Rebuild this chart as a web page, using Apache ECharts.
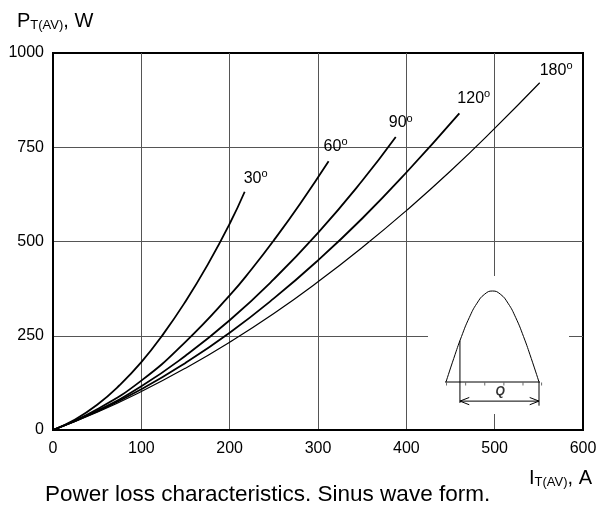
<!DOCTYPE html>
<html><head><meta charset="utf-8">
<script src="https://cdn.jsdelivr.net/npm/echarts@6/dist/echarts.min.js"></script>
<style>html,body{margin:0;padding:0;background:#fff}#c{width:600px;height:506px}</style>
</head><body><div id="c"></div>
<script>
// ---- data ----
const xTicks = [0, 100, 200, 300, 400, 500, 600];
const yTicks = [0, 250, 500, 750, 1000];
const angleLabels = ['30', '60', '90', '120', '180'];

const current30 = [0, 25, 50, 75, 100, 125, 150, 175, 200, 217];
const power30   = [0, 28, 67, 118, 180, 255, 341, 438, 547, 632];
const current60 = [0, 50, 100, 150, 200, 225, 250, 280, 312];
const power60   = [0, 55, 131, 234, 357, 427, 503, 601, 713];
const current90 = [0, 50, 100, 150, 200, 250, 300, 350, 388];
const power90   = [0, 51, 116, 197, 291, 400, 523, 661, 777];
const current120 = [0, 50, 100, 150, 200, 250, 300, 350, 400, 460];
const power120   = [0, 49, 108, 178, 258, 349, 450, 561, 683, 840];
const current180 = [0, 50, 100, 150, 200, 250, 300, 350, 400, 450, 500, 551];
const power180   = [0, 47, 102, 164, 233, 309, 393, 484, 582, 687, 800, 921];

// inset (schematic half sine wave, degrees vs relative amplitude)
const waveDeg = [0, 15, 30, 45, 60, 75, 90, 105, 120, 135, 150, 165, 180];
const waveVal = [0, 0.259, 0.5, 0.707, 0.866, 0.966, 1, 0.966, 0.866, 0.707, 0.5, 0.259, 0];
const baselineDeg = [-33, 220];
const firingDeg = 27;
const tickDeg = [1, 38, 75, 112, 149, 185];

// ---- build ----
const FONT = 'Liberation Sans, Arial, sans-serif';
const zip = (a, b) => a.map((v, i) => [v, b[i]]);
const curves = [
  [current30, power30, 1.8, [-1, -13]],
  [current60, power60, 1.8, [-5, -15]],
  [current90, power90, 1.8, [-7, -14]],
  [current120, power120, 1.8, [-2, -15]],
  [current180, power180, 1.2, [0, -12]]
];
const lbl = {
  n: { fontSize: 16, fontFamily: FONT, color: '#000' },
  s: { fontSize: 11, fontFamily: FONT, color: '#000', verticalAlign: 'top', padding: [0, 0, 9, 0] }
};
const series = curves.map((c, i) => ({
  type: 'line', name: angleLabels[i] + '°', data: zip(c[0], c[1]), smooth: true,
  showSymbol: false, symbol: 'none', silent: true, z: 3,
  lineStyle: { color: '#000', width: c[2] },
  endLabel: { show: true, formatter: '{n|' + angleLabels[i] + '}{s|o}', rich: lbl, distance: 0, offset: c[3], align: 'left' }
}));
const ins = { xAxisIndex: 1, yAxisIndex: 1, clip: false, silent: true, showSymbol: false, symbol: 'none', z: 4 };
const thin = { color: '#000', width: 1 };
series.push(
  Object.assign({ type: 'line', data: zip(waveDeg, waveVal), smooth: true, lineStyle: thin }, ins),
  Object.assign({ type: 'line', data: baselineDeg.map(d => [d, 0]), lineStyle: thin }, ins),
  Object.assign({ type: 'line', data: [[firingDeg, 0.454], [firingDeg, -0.23]], lineStyle: thin }, ins),
  Object.assign({ type: 'line', data: [[180, 0], [180, -0.26]], lineStyle: thin }, ins),
  Object.assign({ type: 'line', data: [[firingDeg, -0.21], [180, -0.21]], lineStyle: thin }, ins),
  Object.assign({ type: 'line', data: [[firingDeg + 18, -0.17], [firingDeg, -0.21], [firingDeg + 18, -0.25]], lineStyle: thin }, ins),
  Object.assign({ type: 'line', data: [[162, -0.17], [180, -0.21], [162, -0.25]], lineStyle: thin }, ins),
  { type: 'scatter', xAxisIndex: 1, yAxisIndex: 1, clip: false, silent: true, z: 4,
    data: tickDeg.map(d => [d, 0]), symbol: 'rect', symbolSize: [1, 3], symbolOffset: [0, 2],
    itemStyle: { color: '#444' } },
  { type: 'scatter', xAxisIndex: 1, yAxisIndex: 1, clip: false, silent: true, z: 4,
    data: [[105, -0.11]], symbolSize: 0,
    label: { show: true, position: 'inside', formatter: 'Q', fontSize: 12, fontWeight: 'bold', fontStyle: 'italic', fontFamily: FONT, color: '#000' } }
);

const nameRich = {
  p: { fontSize: 20, fontWeight: 'normal', fontFamily: FONT, color: '#000' },
  s: { fontSize: 13, fontWeight: 'normal', fontFamily: FONT, color: '#000', verticalAlign: 'bottom', padding: [9, 0, 0, 0] }
};
const chart = echarts.init(document.getElementById('c'), null, { renderer: 'canvas' });
chart.setOption({
  animation: false,
  backgroundColor: '#fff',
  title: [
    { text: '{p|P}{s|T(AV)}{p|, W}', left: 12, top: 5, textStyle: { fontWeight: 'normal', rich: nameRich } },
    { text: '{p|I}{s|T(AV)}{p|, A}', left: 524, top: 462, textStyle: { fontWeight: 'normal', rich: nameRich } },
    { text: 'Power loss characteristics. Sinus wave form.', left: 40, top: 478,
      textStyle: { fontSize: 22.5, fontWeight: 'normal', fontFamily: FONT, color: '#000' } }
  ],
  grid: [
    { left: 53, right: 17, top: 53, bottom: 76, show: true, borderColor: '#000', borderWidth: 2, backgroundColor: 'transparent', containLabel: false, outerBoundsMode: 'none' },
    { left: 446, top: 291, width: 93, height: 91, show: false, containLabel: false, outerBoundsMode: 'none' }
  ],
  xAxis: [
    { type: 'value', gridIndex: 0, min: xTicks[0], max: xTicks[xTicks.length - 1], interval: 100,
      axisLine: { show: true, lineStyle: { color: '#000', width: 2 } }, axisTick: { show: false },
      splitLine: { show: true, showMinLine: false, showMaxLine: false, lineStyle: { color: '#555', width: 1 } },
      axisLabel: { fontSize: 16, fontFamily: FONT, color: '#000', margin: 11, formatter: v => String(v) } },
    { type: 'value', gridIndex: 1, min: 0, max: 180, show: false }
  ],
  yAxis: [
    { type: 'value', gridIndex: 0, min: yTicks[0], max: yTicks[yTicks.length - 1], interval: 250,
      axisLine: { show: true, lineStyle: { color: '#000', width: 2 } }, axisTick: { show: false },
      splitLine: { show: true, showMinLine: false, showMaxLine: false, lineStyle: { color: '#555', width: 1 } },
      axisLabel: { fontSize: 16, fontFamily: FONT, color: '#000', margin: 9, formatter: v => String(v) } },
    { type: 'value', gridIndex: 1, min: 0, max: 1, show: false }
  ],
  graphic: [
    { type: 'rect', shape: { x: 428, y: 276, width: 141, height: 138 }, style: { fill: '#fff' }, z: 1, silent: true }
  ],
  series: series
});
</script></body></html>
